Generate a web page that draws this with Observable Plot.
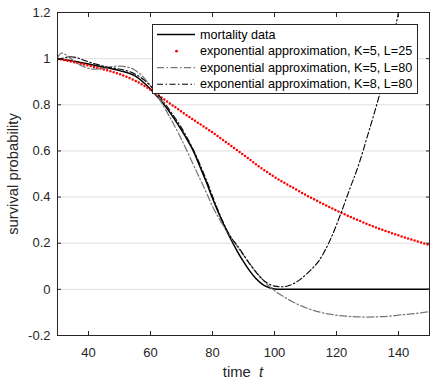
<!DOCTYPE html>
<html>
<head>
<meta charset="utf-8">
<script src="https://cdn.jsdelivr.net/npm/d3@7"></script>
<script src="https://cdn.jsdelivr.net/npm/@observablehq/plot@0.6"></script>
<style>
  html, body { margin: 0; padding: 0; background: #fff; }
  #wrap { position: relative; width: 430px; height: 379px; font-family: "Liberation Sans", Arial, Helvetica, sans-serif; color: #262626; }
  #wrap svg { display: block; }
  .ylab { position: absolute; left: 13px; top: 173.5px; transform: translate(-50%, -50%) rotate(-90deg); white-space: nowrap; font-size: 14.8px; }
  .xlab { position: absolute; left: 243px; top: 372px; transform: translate(-50%, -50%); white-space: nowrap; font-size: 14.8px; }
</style>
</head>
<body>
<div id="wrap"></div>
<script>
// ---- data ----
const xTicks = [40, 60, 80, 100, 120, 140];
const yTicks = [-0.2, 0, 0.2, 0.4, 0.6, 0.8, 1, 1.2];

const seriesNames = [
  "mortality data",
  "exponential approximation, K=5, L=25",
  "exponential approximation, K=5, L=80",
  "exponential approximation, K=8, L=80"
];

const tMort = [30,35,40,45,50,55,60,65,70,72,74,76,78,80,82,84,86,88,90,92,94,96,98,100,102,150];
const sMort = [1.0,0.99,0.977,0.963,0.948,0.925,0.868,0.79,0.69,0.645,0.595,0.53,0.465,0.395,0.33,0.27,0.215,0.165,0.12,0.08,0.047,0.023,0.009,0.002,0,0];

const tK5L25 = [30,35,40,45,50,55,60,65,70,75,80,85,90,95,100,105,110,115,120,125,130,135,140,145,150];
const sK5L25 = [1.0,0.986,0.97,0.953,0.933,0.905,0.865,0.818,0.77,0.725,0.68,0.632,0.583,0.533,0.487,0.448,0.41,0.375,0.342,0.311,0.283,0.257,0.234,0.212,0.192];

const tK5L80 = [30,31.3,33,36,39,42,45,48,50,52,55,58,60,63,66,70,74,78,80,82,84,86,88,90,92,94,96,98,100,103,106,110,115,120,125,130,135,140,145,150];
const sK5L80 = [1.005,1.024,1.014,0.982,0.962,0.955,0.958,0.966,0.968,0.965,0.95,0.915,0.882,0.822,0.752,0.65,0.535,0.42,0.36,0.31,0.265,0.225,0.185,0.148,0.112,0.077,0.045,0.017,-0.005,-0.032,-0.055,-0.079,-0.1,-0.112,-0.118,-0.12,-0.118,-0.112,-0.105,-0.097];

const tK8L80 = [30,32,34,36,38,40,43,46,49,52,55,58,60,63,66,70,74,78,82,86,88,90,92,94,96,98,100,102.5,105,108,111,114.5,118,121.4,124,127.3,130,133.7,136,138,140,142];
const sK8L80 = [0.995,1.003,1.008,1.005,0.995,0.986,0.974,0.964,0.957,0.949,0.933,0.907,0.882,0.835,0.78,0.70,0.60,0.475,0.335,0.225,0.19,0.15,0.11,0.075,0.045,0.025,0.014,0.011,0.018,0.04,0.075,0.127,0.215,0.329,0.425,0.546,0.665,0.835,0.95,1.07,1.2,1.33];

// ---- build ----
const zip = (ts, vs) => ts.map((t, i) => ({t, v: vs[i]}));
const mort = zip(tMort, sMort);
const k5l25 = zip(tK5L25, sK5L25);
const k5l80 = zip(tK5L80, sK5L80);
const k8l80 = zip(tK8L80, sK8L80);

const fmtY = d => String(+d.toFixed(1));
const dashDot = "6,2.5,1.5,2.5";
const dashDotGray = "7,2.5,1.5,2.5";

const chart = Plot.plot({
  width: 430,
  height: 379,
  marginLeft: 57,
  marginRight: 1,
  marginTop: 12,
  marginBottom: 44,
  style: { fontFamily: '"Liberation Sans", Arial, Helvetica, sans-serif', fontSize: "13px", color: "#262626", background: "white", overflow: "visible" },
  x: { domain: [30, 150] },
  y: { domain: [-0.2, 1.2] },
  marks: [
    Plot.gridY(yTicks, { stroke: "#dedede", strokeOpacity: 1, strokeWidth: 1 }),
    Plot.line(mort, { x: "t", y: "v", stroke: "black", strokeWidth: 1.5, curve: "monotone-x", clip: true }),
    Plot.line(k5l25, { x: "t", y: "v", stroke: "#ff0000", strokeWidth: 2.5, strokeLinecap: "round", strokeDasharray: "0,3.4", curve: "monotone-x", clip: true }),
    Plot.line(k5l80, { x: "t", y: "v", stroke: "#777777", strokeWidth: 1.25, strokeDasharray: dashDotGray, curve: "monotone-x", clip: true }),
    Plot.line(k8l80, { x: "t", y: "v", stroke: "black", strokeWidth: 1.1, strokeDasharray: dashDot, curve: "monotone-x", clip: true }),
    Plot.frame({ stroke: "#262626", strokeWidth: 1 }),
    Plot.axisX(xTicks, { anchor: "bottom", tickSize: -4, tickPadding: 16, label: null, tickFormat: d => String(d) }),
    Plot.axisX(xTicks, { anchor: "top", tickSize: -4, tickFormat: () => "", label: null }),
    Plot.axisY(yTicks, { anchor: "left", tickSize: -4, tickPadding: 11, label: null, tickFormat: fmtY }),
    Plot.axisY(yTicks, { anchor: "right", tickSize: -4, tickFormat: () => "", label: null })
  ]
});

const wrap = document.getElementById("wrap");
wrap.appendChild(chart);

const ylab = document.createElement("div");
ylab.className = "ylab";
ylab.textContent = "survival probability";
wrap.appendChild(ylab);

const xlab = document.createElement("div");
xlab.className = "xlab";
xlab.innerHTML = "time&nbsp;&nbsp;<i>t</i>";
wrap.appendChild(xlab);

// legend
const lw = 266, lh = 70;
const rowsY = [10.5, 27.2, 43.7, 60.2];
const ns = "http://www.w3.org/2000/svg";
const lg = document.createElementNS(ns, "svg");
lg.setAttribute("width", lw);
lg.setAttribute("height", lh);
lg.style.position = "absolute";
lg.style.left = "152px";
lg.style.top = "24px";
const rect = document.createElementNS(ns, "rect");
rect.setAttribute("x", 0.5); rect.setAttribute("y", 0.5);
rect.setAttribute("width", lw - 1); rect.setAttribute("height", lh - 1);
rect.setAttribute("fill", "white"); rect.setAttribute("stroke", "#262626");
lg.appendChild(rect);
const styles = [
  { stroke: "black", width: 1.5, dash: null },
  { dot: true },
  { stroke: "#777777", width: 1.25, dash: dashDotGray },
  { stroke: "black", width: 1.1, dash: dashDot }
];
seriesNames.forEach((name, i) => {
  const y = rowsY[i];
  const st = styles[i];
  if (st.dot) {
    const c = document.createElementNS(ns, "circle");
    c.setAttribute("cx", 24.5); c.setAttribute("cy", y); c.setAttribute("r", 1.4);
    c.setAttribute("fill", "#ff0000");
    lg.appendChild(c);
  } else {
    const l = document.createElementNS(ns, "line");
    l.setAttribute("x1", 5); l.setAttribute("x2", 43);
    l.setAttribute("y1", y); l.setAttribute("y2", y);
    l.setAttribute("stroke", st.stroke); l.setAttribute("stroke-width", st.width);
    if (st.dash) l.setAttribute("stroke-dasharray", st.dash);
    lg.appendChild(l);
  }
  const tx = document.createElementNS(ns, "text");
  tx.setAttribute("x", 48); tx.setAttribute("y", y);
  tx.setAttribute("dominant-baseline", "central");
  tx.setAttribute("font-size", "12.6px");
  tx.setAttribute("font-family", '"Liberation Sans", Arial, Helvetica, sans-serif');
  tx.setAttribute("fill", "#000");
  tx.textContent = name;
  lg.appendChild(tx);
});
wrap.appendChild(lg);
</script>
</body>
</html>
